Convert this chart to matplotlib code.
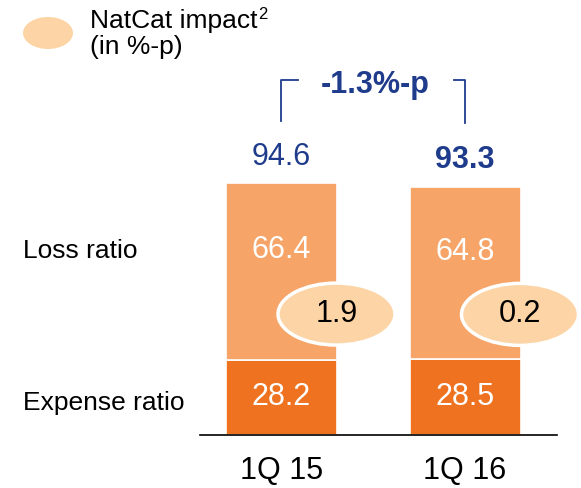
import matplotlib
matplotlib.use("Agg")
import matplotlib.pyplot as plt
from matplotlib.patches import Ellipse

plt.rcParams['font.family'] = ['Liberation Sans', 'DejaVu Sans']

categories = ["1Q 15", "1Q 16"]
expense_ratio = [28.2, 28.5]
loss_ratio = [66.4, 64.8]
natcat_impact = [1.9, 0.2]
combined_ratio = [94.6, 93.3]
delta_label = "-1.3%-p"

C_LOSS = "#F6A467"
C_EXP = "#EE7220"
C_NAT = "#FDD4A5"
C_BLUE = "#1F3C8C"

W, H = 581, 488
fig = plt.figure(figsize=(W / 100, H / 100), dpi=100)
ax = fig.add_axes([0, 0, 1, 1])

xu = 183.5
yu = 2.66
x0px = 281.5
base_px = 435
ax.set_xlim(-x0px / xu, (W - x0px) / xu)
ax.set_ylim(-(H - base_px) / yu, base_px / yu)
ax.axis("off")

def px2x(px):
    return (px - x0px) / xu

def py2y(py):
    return (base_px - py) / yu

xs = list(range(len(categories)))
bw = 111 / xu
ax.bar(xs, expense_ratio, width=bw, color=C_EXP, edgecolor="white", linewidth=1.2, zorder=2)
ax.bar(xs, loss_ratio, bottom=expense_ratio, width=bw, color=C_LOSS, edgecolor="white", linewidth=1.2, zorder=2)

ax.plot([px2x(200), px2x(557)], [0, 0], color="black", lw=1.2, zorder=3)

for i, x in enumerate(xs):
    ax.text(x, expense_ratio[i] / 2, f"{expense_ratio[i]:.1f}", ha="center", va="center",
            color="white", fontsize=22, zorder=4)
    ax.text(x, expense_ratio[i] + loss_ratio[i] * 0.62, f"{loss_ratio[i]:.1f}", ha="center", va="center",
            color="white", fontsize=22, zorder=4)
    tot = combined_ratio[i]
    ax.text(x, tot + 10.0, f"{tot:.1f}", ha="center", va="center", color=C_BLUE, fontsize=22,
            fontweight="bold" if i == 1 else "normal", zorder=4)
    ax.text(x, py2y(471), categories[i], ha="center", va="center", color="black", fontsize=22)
    ex = x + 55 / xu
    ey = expense_ratio[i] + loss_ratio[i] * 0.26
    e = Ellipse((ex, ey), 117 / xu, 62 / yu, facecolor=C_NAT, edgecolor="white", lw=2.5, zorder=5)
    ax.add_patch(e)
    ax.text(ex, ey, f"{natcat_impact[i]:.1f}", ha="center", va="center", color="black", fontsize=22, zorder=6)

ax.text(px2x(23), py2y(251), "Loss ratio", ha="left", va="center", fontsize=19, color="black")
ax.text(px2x(23), py2y(403), "Expense ratio", ha="left", va="center", fontsize=19, color="black")

le = Ellipse((px2x(48), py2y(33)), 50 / xu, 32 / yu, facecolor=C_NAT, edgecolor="none")
ax.add_patch(le)
ax.text(px2x(90), py2y(21), "NatCat impact", ha="left", va="center", fontsize=19, color="black")
ax.text(px2x(258), py2y(15), "2", ha="left", va="center", fontsize=12, color="black")
ax.text(px2x(90), py2y(47), "(in %-p)", ha="left", va="center", fontsize=19, color="black")

ax.plot([px2x(281), px2x(281), px2x(298)], [py2y(121), py2y(80), py2y(80)], color=C_BLUE, lw=1.3)
ax.plot([px2x(454), px2x(465), px2x(465)], [py2y(80), py2y(80), py2y(123)], color=C_BLUE, lw=1.3)
ax.text(px2x(375), py2y(85), delta_label, ha="center", va="center", color=C_BLUE, fontsize=22,
        fontweight="bold")

fig.savefig("out.png", dpi=100)
